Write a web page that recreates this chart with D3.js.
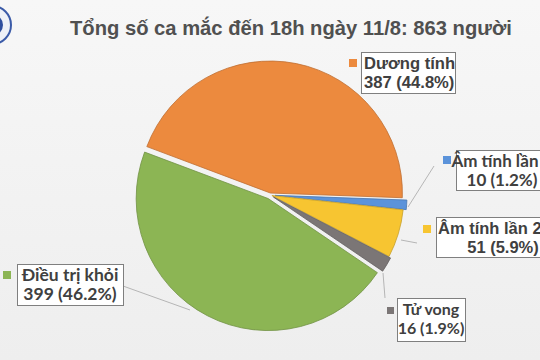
<!DOCTYPE html>
<html>
<head>
<meta charset="utf-8">
<script src="https://cdn.jsdelivr.net/npm/d3@7"></script>
<style>
	body { margin: 0; background: #f3f3f3; }
	svg { display: block; }
</style>
</head>
<body>
<div id="chart"></div>
<script>
// chart data
var titleText = "Tổng số ca mắc đến 18h ngày 11/8: 863 người";
var categories = ["Dương tính", "Âm tính lần 1", "Âm tính lần 2 trở lên", "Tử vong", "Điều trị khỏi"];
var values = [387, 10, 51, 16, 399];
var percents = ["44.8%", "1.2%", "5.9%", "1.9%", "46.2%"];
var colors = ["#ec8a3e", "#5b93da", "#f7c531", "#7b7676", "#8cb554"];

function drawChart() {
	var width = 540;
	var height = 360;

	var svg = d3.select("#chart").append("svg")
		.attr("width", width)
		.attr("height", height);

	// light gray background
	var grad = svg.append("defs").append("linearGradient")
		.attr("id", "bg")
		.attr("x1", 0).attr("y1", 0).attr("x2", 0).attr("y2", 1);
	grad.append("stop").attr("offset", "0%").attr("stop-color", "#f7f7f7");
	grad.append("stop").attr("offset", "100%").attr("stop-color", "#eeeeee");
	svg.append("rect")
		.attr("width", width)
		.attr("height", height)
		.style("fill", "url(#bg)");

	// logo cut at the left edge
	svg.append("circle")
		.attr("cx", -8).attr("cy", 25).attr("r", 19)
		.style("fill", "#eef1f7").style("stroke", "#3b5ba8").style("stroke-width", 2);
	svg.append("circle")
		.attr("cx", -8).attr("cy", 25).attr("r", 11)
		.style("fill", "#2f4f9e");

	// title
	svg.append("text")
		.attr("x", 70)
		.attr("y", 35)
		.style("font-family", "Liberation Sans, Arial, sans-serif")
		.style("font-weight", "bold")
		.style("font-size", "20.2px")
		.style("fill", "#505050")
		.text(titleText);

	// pie
	var cx = 270, cy = 195, radius = 132;
	var explode = [2, 5, 2, 4, 4];

	var pie = d3.pie()
		.sort(null)
		.startAngle(-69.4 * Math.PI / 180)
		.endAngle(290.6 * Math.PI / 180);
	var arcs = pie(values);
	var arc = d3.arc().innerRadius(0).outerRadius(radius);

	var g = svg.append("g").attr("transform", "translate(" + cx + "," + cy + ")");
	g.selectAll("path")
		.data(arcs)
		.enter().append("path")
		.attr("d", arc)
		.attr("transform", function(d, i) {
			var mid = (d.startAngle + d.endAngle) / 2;
			return "translate(" + (Math.sin(mid) * explode[i]) + "," + (-Math.cos(mid) * explode[i]) + ")";
		})
		.style("fill", function(d, i) { return colors[i]; })
		.style("stroke", function(d, i) { return d3.color(colors[i]).darker(0.6); })
		.style("stroke-width", 0.8);

	// label boxes: [box x, box y, box w, box h, align, marker x, marker y, marker size]
	var boxes = [
		[361, 52, 94, 41, "start", 349, 59, 8],
		[456, 150, 92, 40, "middle", 443, 156, 8],
		[436, 217, 140, 40, "middle", 423, 225, 8],
		[397, 298, 68, 43, "middle", 387, 307, 7],
		[17, 264, 106, 41, "middle", 3, 271, 8]
	];
	var fonts = ["Liberation Sans, Arial, sans-serif", "Lato, sans-serif", "Liberation Sans, Arial, sans-serif", "Lato, sans-serif", "Lato, sans-serif"];
	var sizes = [16.6, 17, 16.5, 16, 17.5];

	// leader lines from slice to label
	var leaders = [
		null,
		[[408, 207], [434, 166]],
		[[401, 240], [417, 243]],
		[[383, 273], [385, 298]],
		[[190, 310], [123, 286]]
	];
	var line = d3.line();
	leaders.forEach(function(p) {
		if (!p) return;
		svg.append("path")
			.attr("d", line(p))
			.style("fill", "none")
			.style("stroke", "#a6a6a6")
			.style("stroke-width", 0.8);
	});

	boxes.forEach(function(b, i) {
		svg.append("rect")
			.attr("x", b[5]).attr("y", b[6])
			.attr("width", b[7]).attr("height", b[7])
			.style("fill", colors[i]);

		svg.append("rect")
			.attr("x", b[0] + 0.5).attr("y", b[1] + 0.5)
			.attr("width", b[2]).attr("height", b[3])
			.style("fill", "#ffffff")
			.style("stroke", "#7f7f7f")
			.style("stroke-width", 1);

		var tx = b[4] == "start" ? b[0] + 3 : b[0] + b[2] / 2;
		var label = svg.append("text")
			.style("font-family", fonts[i])
			.style("font-weight", "bold")
			.style("font-size", sizes[i] + "px")
			.style("fill", "#404040")
			.attr("text-anchor", b[4]);
		label.append("tspan")
			.attr("x", i == 2 ? b[0] + 2 : tx)
			.attr("text-anchor", i == 2 ? "start" : b[4])
			.attr("y", b[1] + 17)
			.text(categories[i]);
		label.append("tspan")
			.attr("x", i == 2 ? 503 : tx)
			.attr("y", b[1] + 36)
			.text(values[i] + " (" + percents[i] + ")");
	});
}

drawChart();
</script>
</body>
</html>
